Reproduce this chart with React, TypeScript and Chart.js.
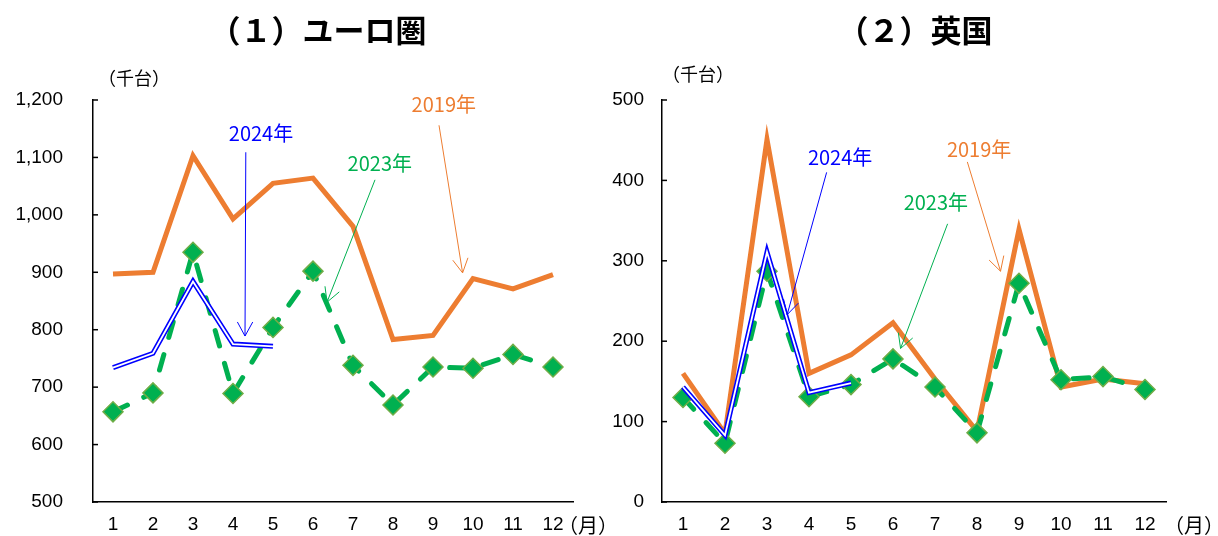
import React, { useEffect, useRef } from 'react';
import { Chart, registerables } from 'chart.js';

Chart.register(...registerables);

// Months on the horizontal axis
const months = ['1', '2', '3', '4', '5', '6', '7', '8', '9', '10', '11', '12'];

// Euro area registrations (thousand units)
const euro2019 = [897, 900, 1103, 993, 1055, 1064, 980, 783, 790, 889, 871, 896];
const euro2023 = [657, 690, 935, 689, 804, 902, 738, 669, 735, 733, 757, 735];
const euro2024 = [734, 759, 884, 775, 771];
const euroTickLabels = ['500', '600', '700', '800', '900', '1,000', '1,100', '1,200'];

// United Kingdom registrations (thousand units)
const uk2019 = [160, 85, 451, 160, 183, 223, 153, 88, 339, 143, 153, 147];
const uk2023 = [130, 73, 287, 131, 146, 178, 143, 86, 272, 152, 156, 140];
const uk2024 = [143, 83, 311, 136, 148];
const ukTickLabels = ['0', '100', '200', '300', '400', '500'];

type Note = {
  text: string;
  color: string;
  at: [number, number]; // [month index, value] of the label centre
  from: [number, number];
  to: [number, number];
};

const euroNotes: Note[] = [
  { text: '2024年', color: '#0000FF', at: [3.7, 1142], from: [3.32, 1109], to: [3.3, 789] },
  { text: '2023年', color: '#00B050', at: [6.67, 1090], from: [6.55, 1061], to: [5.35, 848] },
  { text: '2019年', color: '#ED7D31', at: [8.27, 1193], from: [8.15, 1156], to: [8.74, 899] },
];

const ukNotes: Note[] = [
  { text: '2024年', color: '#0000FF', at: [3.74, 429], from: [3.42, 410], to: [2.48, 233] },
  { text: '2023年', color: '#00B050', at: [6.02, 373], from: [6.3, 346], to: [5.18, 191] },
  { text: '2019年', color: '#ED7D31', at: [7.05, 438], from: [6.77, 423], to: [7.56, 287] },
];

const JP = '"Noto Sans CJK JP", "Noto Sans", sans-serif';
const NUM = '"Liberation Sans", Arial, sans-serif';

type PanelProps = {
  title: string;
  titleX: number;
  unitX: number;
  unitY: number;
  monthX: number;
  s2019: number[];
  s2023: number[];
  s2024: number[];
  tickLabels: string[];
  min: number;
  max: number;
  notes: Note[];
  axisWidth: number;
  labelPad: number;
  padRight: number;
  width: number;
  left: number;
};

function Panel(p: PanelProps) {
  const ref = useRef<HTMLCanvasElement | null>(null);

  useEffect(() => {
    if (!ref.current) return;

    const overlay = {
      id: 'overlay',
      afterDraw(chart: any) {
        const { ctx, chartArea } = chart;
        const x = chart.scales.x;
        const y = chart.scales.y;
        const x0 = x.getPixelForValue(0);
        const step = x.getPixelForValue(1) - x0;
        const px = (i: number) => x0 + i * step;
        const py = (v: number) => y.getPixelForValue(v);

        ctx.save();
        // inward tick marks on the value axis
        ctx.strokeStyle = '#000';
        ctx.lineWidth = 1.5;
        y.ticks.forEach((t: any) => {
          const yy = py(t.value);
          ctx.beginPath();
          ctx.moveTo(chartArea.left, yy);
          ctx.lineTo(chartArea.left + 5, yy);
          ctx.stroke();
        });

        // panel title
        ctx.fillStyle = '#000';
        ctx.textAlign = 'center';
        ctx.textBaseline = 'middle';
        ctx.font = `bold 31px ${JP}`;
        ctx.fillText(p.title, p.titleX, 30);

        // units
        ctx.font = `18px ${JP}`;
        ctx.fillText('（千台）', p.unitX, p.unitY);
        ctx.font = `20px ${JP}`;
        ctx.fillText('（月）', p.monthX, 525);

        // series call-outs with arrows
        p.notes.forEach((n) => {
          ctx.fillStyle = n.color;
          ctx.strokeStyle = n.color;
          ctx.font = `20px ${JP}`;
          ctx.fillText(n.text, px(n.at[0]), py(n.at[1]));
          const fx = px(n.from[0]);
          const fy = py(n.from[1]);
          const tx = px(n.to[0]);
          const ty = py(n.to[1]);
          ctx.lineWidth = 1;
          ctx.beginPath();
          ctx.moveTo(fx, fy);
          ctx.lineTo(tx, ty);
          ctx.stroke();
          const a = Math.atan2(ty - fy, tx - fx);
          const L = 16;
          const w = 0.5;
          ctx.beginPath();
          ctx.moveTo(tx - L * Math.cos(a - w), ty - L * Math.sin(a - w));
          ctx.lineTo(tx, ty);
          ctx.lineTo(tx - L * Math.cos(a + w), ty - L * Math.sin(a + w));
          ctx.stroke();
        });
        ctx.restore();
      },
    };

    const chart = new Chart(ref.current, {
      type: 'line',
      data: {
        labels: months,
        datasets: [
          {
            label: '2024年',
            data: p.s2024,
            borderColor: '#FFFFFF',
            borderWidth: 1.8,
            pointRadius: 0,
            tension: 0,
            order: 0,
          },
          {
            label: '2024年',
            data: p.s2024,
            borderColor: '#0000FF',
            borderWidth: 5,
            pointRadius: 0,
            tension: 0,
            order: 1,
          },
          {
            label: '2023年',
            data: p.s2023,
            borderColor: '#00B050',
            borderWidth: 5,
            borderDash: [16, 18],
            borderCapStyle: 'round',
            pointStyle: 'rectRot',
            pointRadius: 10,
            pointBackgroundColor: '#00B050',
            pointBorderColor: '#70AD47',
            pointBorderWidth: 1.5,
            tension: 0,
            order: 2,
          },
          {
            label: '2019年',
            data: p.s2019,
            borderColor: '#ED7D31',
            borderWidth: 5,
            borderJoinStyle: 'miter',
            pointRadius: 0,
            tension: 0,
            order: 3,
          },
        ] as any,
      },
      options: {
        responsive: false,
        animation: false,
        devicePixelRatio: 1,
        events: [],
        layout: { padding: { top: 100, right: p.padRight, left: 0, bottom: 0 } },
        plugins: {
          legend: { display: false },
          tooltip: { enabled: false },
          title: { display: false },
        },
        scales: {
          x: {
            type: 'category',
            offset: true,
            grid: { display: false, drawTicks: true, tickLength: 11 },
            border: { display: true, color: '#000', width: 1.5 },
            ticks: {
              color: '#000',
              font: { family: NUM, size: 19 },
              padding: 0,
              maxRotation: 0,
              autoSkip: false,
            },
            afterFit: (s: any) => {
              s.height = 34;
            },
          },
          y: {
            min: p.min,
            max: p.max,
            grid: { display: false, drawTicks: true, tickLength: p.labelPad },
            border: { display: true, color: '#000', width: 1.5 },
            ticks: {
              stepSize: 100,
              color: '#000',
              font: { family: NUM, size: 19 },
              padding: 0,
              callback: (_v: any, i: number) => p.tickLabels[i],
            },
            afterFit: (s: any) => {
              s.width = p.axisWidth;
            },
          },
        },
      } as any,
      plugins: [overlay],
    });

    return () => chart.destroy();
  }, []);

  return (
    <canvas
      ref={ref}
      width={p.width}
      height={536}
      style={{ position: 'absolute', left: p.left, top: 0, width: p.width, height: 536 }}
    />
  );
}

export default function App() {
  return (
    <div style={{ position: 'absolute', left: 0, top: 0, width: 1218, height: 536, background: '#fff' }}>
      <Panel
        title="（１）ユーロ圏"
        titleX={318}
        unitX={134}
        unitY={78}
        monthX={588}
        s2019={euro2019}
        s2023={euro2023}
        s2024={euro2024}
        tickLabels={euroTickLabels}
        min={500}
        max={1200}
        notes={euroNotes}
        axisWidth={93}
        labelPad={30}
        padRight={47}
        width={620}
        left={0}
      />
      <Panel
        title="（２）英国"
        titleX={306}
        unitX={89}
        unitY={74}
        monthX={585}
        s2019={uk2019}
        s2023={uk2023}
        s2024={uk2024}
        tickLabels={ukTickLabels}
        min={0}
        max={500}
        notes={ukNotes}
        axisWidth={53}
        labelPad={18}
        padRight={52}
        width={609}
        left={609}
      />
    </div>
  );
}
